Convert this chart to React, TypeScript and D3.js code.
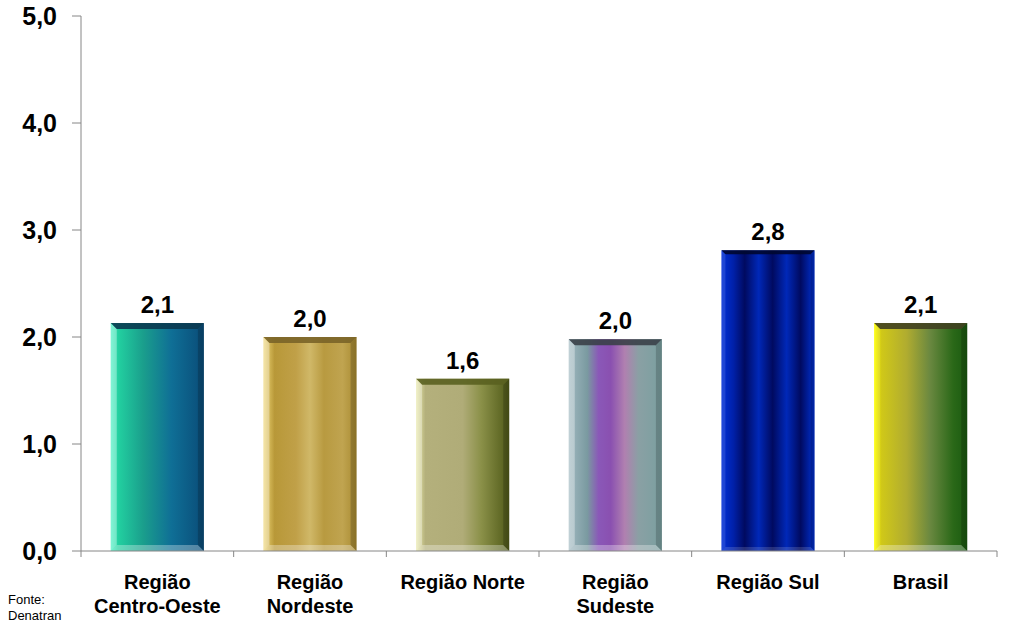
import React from "react";
import * as d3 from "d3";

const categories: string[][] = [
  ["Região", "Centro-Oeste"],
  ["Região", "Nordeste"],
  ["Região Norte"],
  ["Região", "Sudeste"],
  ["Região Sul"],
  ["Brasil"],
];
const values: number[] = [2.13, 2.0, 1.61, 1.98, 2.81, 2.13];
const yTicks: number[] = [0, 1, 2, 3, 4, 5];

const gradients: [number, string][][] = [
  [[0, "#3cf0c0"], [0.08, "#22d0a0"], [0.35, "#1a9e8c"], [0.65, "#0f6f96"], [1, "#0a4c78"]],
  [[0, "#f0d878"], [0.12, "#b89838"], [0.35, "#c0a048"], [0.5, "#d0b868"], [0.65, "#b89a40"], [0.85, "#c0a450"], [1, "#a88a30"]],
  [[0, "#e8e8a8"], [0.1, "#b4b07c"], [0.5, "#b0ac78"], [0.7, "#8a9048"], [1, "#505a18"]],
  [[0, "#a0b8c0"], [0.2, "#7a9aa0"], [0.32, "#8a58b8"], [0.45, "#8a50b0"], [0.6, "#b080b0"], [0.75, "#8aa0a4"], [1, "#7aa0a0"]],
  [[0, "#0030d8"], [0.13, "#0020a8"], [0.25, "#000a60"], [0.4, "#0028b8"], [0.55, "#000a60"], [0.7, "#0028b8"], [0.85, "#000a60"], [1, "#0030d0"]],
  [[0, "#ffff00"], [0.08, "#d0c818"], [0.35, "#b0ac30"], [0.6, "#6a8840"], [0.85, "#2a6818"], [1, "#1a5a10"]],
];
const bevelTop: string[] = ["#0a3a50", "#7a6428", "#5a6020", "#3a4048", "#000830", "#404020"];

const W = 1014;
const H = 630;
const left = 81;
const right = 997;
const top = 16;
const bottom = 551;

export default function App() {
  const x = d3
    .scaleBand<number>()
    .domain(d3.range(categories.length))
    .range([left, right])
    .paddingInner(0.39)
    .paddingOuter(0.195);
  const y = d3.scaleLinear().domain([0, 5]).range([bottom, top]);
  const bw = x.bandwidth();
  const step = x.step();
  const font = "'Liberation Sans', Arial, sans-serif";
  const bevel = 6;

  return (
    <svg
      width={W}
      height={H}
      style={{ position: "absolute", left: 0, top: 0, background: "#fff" }}
      fontFamily={font}
    >
      <defs>
        {gradients.map((g, i) => (
          <linearGradient key={i} id={`g${i}`} x1="0" x2="1" y1="0" y2="0">
            {g.map(([o, c], j) => (
              <stop key={j} offset={o} stopColor={c} />
            ))}
          </linearGradient>
        ))}
      </defs>

      {values.map((v, i) => {
        const x0 = x(i)!;
        const x1 = x0 + bw;
        const y0 = y(v);
        const y1 = bottom;
        const b = i === 4 ? 4 : bevel;
        return (
          <g key={i}>
            <rect x={x0} y={y0} width={bw} height={y1 - y0} fill={`url(#g${i})`} />
            <polygon
              points={`${x0},${y0} ${x0 + b},${y0 + b} ${x0 + b},${y1 - b} ${x0},${y1}`}
              fill="#ffffff"
              opacity={i === 4 ? 0.12 : i === 5 ? 0.1 : 0.35}
            />
            <polygon
              points={`${x0},${y1} ${x0 + b},${y1 - b} ${x1 - b},${y1 - b} ${x1},${y1}`}
              fill="#ffffff"
              opacity={i === 4 ? 0.15 : 0.3}
            />
            <polygon
              points={`${x1},${y0} ${x1 - b},${y0 + b} ${x1 - b},${y1 - b} ${x1},${y1}`}
              fill="#000000"
              opacity={0.18}
            />
            <polygon
              points={`${x0},${y0} ${x1},${y0} ${x1 - b},${y0 + b} ${x0 + b},${y0 + b}`}
              fill={bevelTop[i]}
              opacity={0.9}
            />
            <text
              x={x0 + bw / 2}
              y={y0 - 10}
              textAnchor="middle"
              fontSize={24}
              fontWeight="bold"
              fill="#000"
            >
              {d3.format(".1f")(v).replace(".", ",")}
            </text>
          </g>
        );
      })}

      <line x1={left} x2={left} y1={top} y2={bottom} stroke="#868686" strokeWidth={1} />
      {yTicks.map((t) => (
        <g key={t}>
          <line x1={left - 9} x2={left} y1={y(t)} y2={y(t)} stroke="#868686" strokeWidth={1} />
          <text
            x={57}
            y={y(t)}
            dy="0.36em"
            textAnchor="end"
            fontSize={25}
            fontWeight="bold"
            fill="#000"
          >
            {d3.format(".1f")(t).replace(".", ",")}
          </text>
        </g>
      ))}

      <line x1={left} x2={right} y1={bottom} y2={bottom} stroke="#868686" strokeWidth={1} />
      {d3.range(categories.length + 1).map((k) => {
        const xx = left + k * step;
        return (
          <line key={k} x1={xx} x2={xx} y1={bottom} y2={bottom + 6} stroke="#868686" strokeWidth={1} />
        );
      })}
      {categories.map((lines, i) => (
        <text
          key={i}
          x={x(i)! + bw / 2}
          y={589}
          textAnchor="middle"
          fontSize={20}
          fontWeight="bold"
          fill="#000"
        >
          {lines.map((l, j) => (
            <tspan key={j} x={x(i)! + bw / 2} dy={j === 0 ? 0 : 24}>
              {l}
            </tspan>
          ))}
        </text>
      ))}

      <text x={8} y={604} fontSize={13} fill="#000">
        Fonte:
      </text>
      <text x={8} y={620} fontSize={13} fill="#000">
        Denatran
      </text>
    </svg>
  );
}
